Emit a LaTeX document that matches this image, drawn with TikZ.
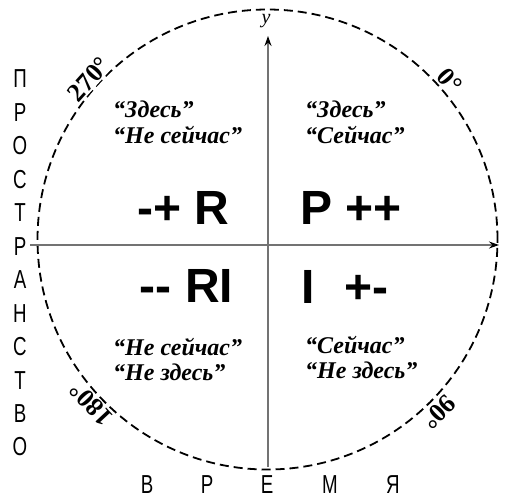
\documentclass[tikz,border=0pt]{standalone}
\usepackage{fontspec}
\setmainfont{Liberation Serif}
\newfontfamily\arialf{Liberation Sans}
\usetikzlibrary{arrows.meta}
\begin{document}
\begin{tikzpicture}[x=1pt,y=-1pt,
  big/.style={font=\arialf\bfseries\fontsize{48}{48}\selectfont, inner sep=0pt},
  quote/.style={font=\bfseries\itshape\fontsize{24}{26}\selectfont, anchor=base west, inner sep=0pt},
  side/.style={font=\arialf\fontsize{26}{26}\selectfont, inner sep=0pt},
  deg/.style={font=\bfseries\fontsize{26}{26}\selectfont, fill=white, inner sep=1pt},
  axis/.style={draw=black!55, line width=1.2pt, -{Stealth[length=10pt,width=7pt,color=black]}},
  ring/.style={draw=black, line width=1.8pt, dash pattern=on 9pt off 5pt},
]
\useasboundingbox (0,0) rectangle (505,498);
\coordinate (c) at (267.5,239.5);
\draw[ring] (c) circle[radius=230pt];
% axes
\coordinate (xs) at (30,245);
\coordinate (xe) at (499,245);
\coordinate (ys) at (268,467);
\coordinate (ye) at (268,36);
\draw[axis] (xs) -- (xe);
\draw[axis] (ys) -- (ye);
\node[font=\itshape\fontsize{20}{20}\selectfont, inner sep=0pt] (ylab) at (266,21) {y};
% left vertical word
\foreach \l [count=\i from 0] in {П,Р,О,С,Т,Р,А,Н,С,Т,В,О}
  \node[side] (s\i) at (20,{79+33.45*\i}) {\scalebox{0.72}[1]{\l}};
% bottom word
\node[side] (b1) at (147,485) {\scalebox{0.72}[1]{В}};
\node[side] (b2) at (207,485) {\scalebox{0.72}[1]{Р}};
\node[side] (b3) at (267,485) {\scalebox{0.72}[1]{Е}};
\node[side] (b4) at (330,485) {\scalebox{0.72}[1]{М}};
\node[side] (b5) at (393,485) {\scalebox{0.72}[1]{Я}};
% big labels
\node[big] (q2) at (183.5,208) {-+ R};
\node[big] (q1) at (351,208) {P ++};
\node[big] (q3) at (186.5,286) {-{}- RI};
\node[big] (q4) at (345,287) {I\hspace{30pt}+-};
% quotes
\node[quote] (t1a) at (113,117) {“Здесь”};
\node[quote] (t1b) at (113,143) {“Не сейчас”};
\node[quote] (t2a) at (305,117) {“Здесь”};
\node[quote] (t2b) at (305,143) {“Сейчас”};
\node[quote] (t3a) at (113,355) {“Не сейчас”};
\node[quote] (t3b) at (113,380) {“Не здесь”};
\node[quote] (t4a) at (305,353) {“Сейчас”};
\node[quote] (t4b) at (305,378) {“Не здесь”};
% degree labels
\node[deg, rotate=-49] (d0) at (450,81) {0°};
\node[deg, rotate=48] (d270) at (89,79) {270°};
\node[deg, rotate=133] (d180) at (91,404) {180°};
\node[deg, rotate=-135] (d90) at (439,412) {90°};
\end{tikzpicture}
\end{document}
